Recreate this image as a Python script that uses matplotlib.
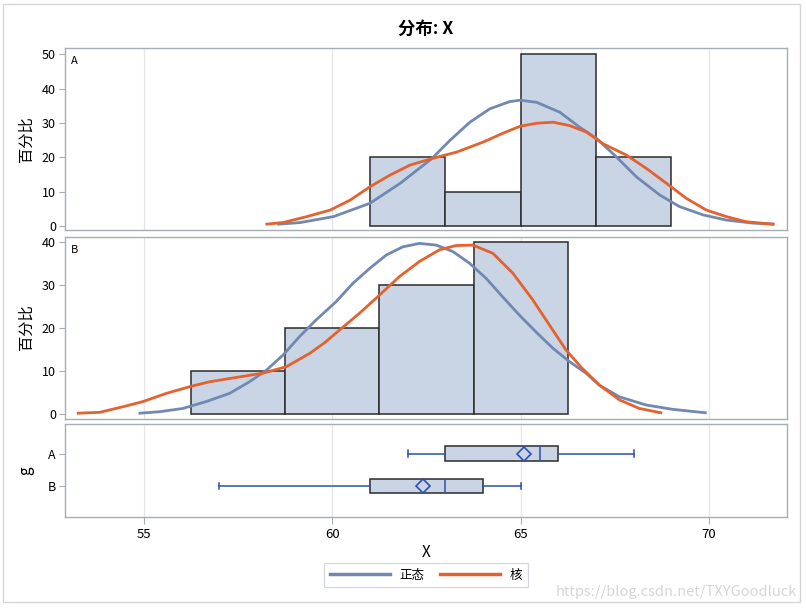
import numpy as np
import matplotlib
matplotlib.use("Agg")
import matplotlib.pyplot as plt
from matplotlib.patches import Rectangle

plt.rcParams['font.family'] = ['Noto Sans CJK SC', 'DejaVu Sans']

# histogram bins (left edge, width) and percent heights
a_edges = [61, 63, 65, 67]
a_width = 2.0
a_pct = [20, 10, 50, 20]
b_edges = [56.25, 58.75, 61.25, 63.75]
b_width = 2.5
b_pct = [10, 20, 30, 40]

# normal curves (x, percent)
a_norm_x = [58.57, 59.14, 60.03, 61.0, 61.8, 62.64, 63.12, 63.65, 64.18, 64.71, 64.98,
            65.42, 66.04, 66.57, 67.02, 67.54, 68.07, 68.69, 69.22, 69.84, 70.46, 71.17, 71.7]
a_norm_y = [0.5, 0.96, 2.7, 6.6, 12.4, 19.6, 24.9, 30.2, 34.1, 36.2, 36.6,
            36.0, 33.1, 28.7, 25.4, 20.1, 14.3, 9.0, 5.6, 3.2, 1.7, 0.8, 0.5]
b_norm_x = [54.89, 55.42, 56.03, 56.65, 57.27, 57.8, 58.25, 58.69, 59.13, 59.55, 60.1,
            60.54, 60.99, 61.43, 61.87, 62.31, 62.76, 63.2, 63.64, 64.08, 64.52, 64.96,
            65.4, 65.85, 66.29, 66.73, 67.09, 67.62, 68.33, 69.03, 69.9]
b_norm_y = [0.3, 0.65, 1.4, 3.0, 4.9, 7.6, 10.3, 13.8, 18.1, 21.8, 26.2,
            30.4, 33.9, 37.0, 38.9, 39.7, 39.3, 37.8, 35.1, 31.6, 27.3, 23.1,
            19.2, 15.4, 12.3, 9.6, 6.8, 4.1, 2.2, 1.2, 0.4]

# kernel curves (x, percent)
a_kern_x = [58.26, 58.7, 59.32, 59.94, 60.47, 61.0, 61.53, 62.06, 62.64, 63.3, 64.0,
            64.53, 64.98, 65.42, 65.86, 66.3, 66.75, 67.19, 67.81, 68.34, 68.87, 69.4,
            69.93, 70.46, 70.99, 71.7]
a_kern_y = [0.5, 1.0, 2.7, 4.6, 7.5, 11.4, 14.8, 17.7, 19.6, 21.5, 24.4,
            27.0, 29.0, 29.9, 30.2, 29.2, 27.3, 23.9, 20.6, 16.7, 12.4, 8.0,
            4.6, 2.7, 1.2, 0.5]
b_kern_x = [53.25, 53.82, 54.44, 54.97, 55.59, 56.21, 56.74, 57.45, 58.16, 58.78, 59.4,
            59.8, 60.19, 60.72, 61.25, 61.78, 62.31, 62.84, 63.28, 63.73, 64.26, 64.79,
            65.32, 65.85, 66.2, 66.6, 67.09, 67.62, 68.15, 68.72]
b_kern_y = [0.3, 0.5, 1.8, 3.0, 4.9, 6.45, 7.6, 8.6, 9.6, 11.1, 14.2,
            16.7, 19.6, 23.5, 27.7, 32.0, 35.5, 38.2, 39.2, 39.3, 37.4, 32.8,
            26.6, 19.6, 15.0, 11.0, 6.8, 3.4, 1.4, 0.4]

# box plot statistics
groups = ['A', 'B']
box_min = [62, 57]
box_q1 = [63, 61]
box_med = [65.5, 63]
box_q3 = [66, 64]
box_max = [68, 65]
box_mean = [65.1, 62.4]

fill = '#c9d4e5'
blue_line = '#7189b0'
orange_line = '#e5612e'
whisk = '#2a50b4'
spine_c = '#a6adb6'
grid_c = '#e3e5e8'

fig = plt.figure(figsize=(8.06, 6.10), dpi=100)
fig.patches.append(Rectangle((3 / 806, 1 - 602 / 610), 797 / 806, 598 / 610,
                             transform=fig.transFigure, fill=False,
                             edgecolor='#d3d7dd', linewidth=1.0))

L, W = 65 / 806, 722 / 806
axA = fig.add_axes([L, 1 - 230 / 610, W, 182.3 / 610])
axB = fig.add_axes([L, 1 - 418.5 / 610, W, 182 / 610])
axC = fig.add_axes([L, 1 - 516.7 / 610, W, 92.7 / 610])

xlim = (52.9, 72.07)
xt = [55, 60, 65, 70]


def style(ax):
    ax.set_xlim(*xlim)
    ax.set_xticks(xt)
    for s in ax.spines.values():
        s.set_color(spine_c)
        s.set_linewidth(1.0)
    for x in xt:
        ax.axvline(x, color=grid_c, lw=0.9, zorder=0)
    ax.tick_params(axis='y', length=4.5, color=spine_c, labelsize=9, pad=2)


for ax, edges, w, pct, nx, ny, kx, ky, lab, ylim, yt in [
        (axA, a_edges, a_width, a_pct, a_norm_x, a_norm_y, a_kern_x, a_kern_y, 'A',
         (-1.2, 51.9), [0, 10, 20, 30, 40, 50]),
        (axB, b_edges, b_width, b_pct, b_norm_x, b_norm_y, b_kern_x, b_kern_y, 'B',
         (-0.93, 41.3), [0, 10, 20, 30, 40])]:
    style(ax)
    ax.bar(edges, pct, width=w, align='edge', color=fill, edgecolor='#2b2b2b',
           linewidth=1.1, zorder=2)
    ax.plot(nx, ny, color=blue_line, lw=2.0, zorder=3)
    ax.plot(kx, ky, color=orange_line, lw=2.0, zorder=4)
    ax.set_ylim(*ylim)
    ax.set_yticks(yt)
    ax.tick_params(axis='x', bottom=False, labelbottom=False)
    ax.set_ylabel('百分比', fontsize=11, labelpad=5)
    ax.text(0.008, 0.955, lab, transform=ax.transAxes, fontsize=8, va='top', ha='left')

axA.set_title('分布: X', fontsize=12.5, fontweight='bold', pad=10)

style(axC)
stats = []
for i in range(len(groups)):
    stats.append(dict(med=box_med[i], q1=box_q1[i], q3=box_q3[i], whislo=box_min[i],
                      whishi=box_max[i], mean=box_mean[i], fliers=[]))
axC.bxp(stats, positions=[1, 0], widths=0.46, orientation='horizontal',
        showmeans=True, patch_artist=True, capwidths=0.2,
        boxprops=dict(facecolor=fill, edgecolor='#2b2b2b', linewidth=1.1),
        medianprops=dict(color=whisk, linewidth=1.1),
        whiskerprops=dict(color=whisk, linewidth=1.1),
        capprops=dict(color=whisk, linewidth=1.1),
        meanprops=dict(marker='D', markerfacecolor='none', markeredgecolor=whisk,
                       markersize=7.5, markeredgewidth=1.2))
axC.set_ylim(-0.95, 1.92)
axC.set_yticks([1, 0])
axC.set_yticklabels(groups)
axC.set_xticks(xt)
axC.set_xticklabels([str(x) for x in xt])
axC.tick_params(axis='x', length=5, color=spine_c, labelsize=9.5, pad=3)
axC.set_xlabel('X', fontsize=11, labelpad=2)
axC.set_ylabel('g', fontsize=11, labelpad=10)

h1, = axC.plot([], [], color=blue_line, lw=2.5)
h2, = axC.plot([], [], color=orange_line, lw=2.5)
leg = fig.legend([h1, h2], ['正态', '核'], loc='center', bbox_to_anchor=(426 / 806, 1 - 575 / 610),
                 ncol=2, frameon=True, fancybox=False, fontsize=9, handlelength=4.8,
                 columnspacing=1.2, borderpad=0.45)
leg.get_frame().set_edgecolor('#c8ccd2')
leg.get_frame().set_linewidth(0.9)

fig.text(797 / 806, 1 - 592 / 610, 'https://blog.csdn.net/TXYGoodluck', ha='right', va='center',
         fontsize=10.5, color='#d6d6d6')

fig.savefig('out.png', dpi=100)
